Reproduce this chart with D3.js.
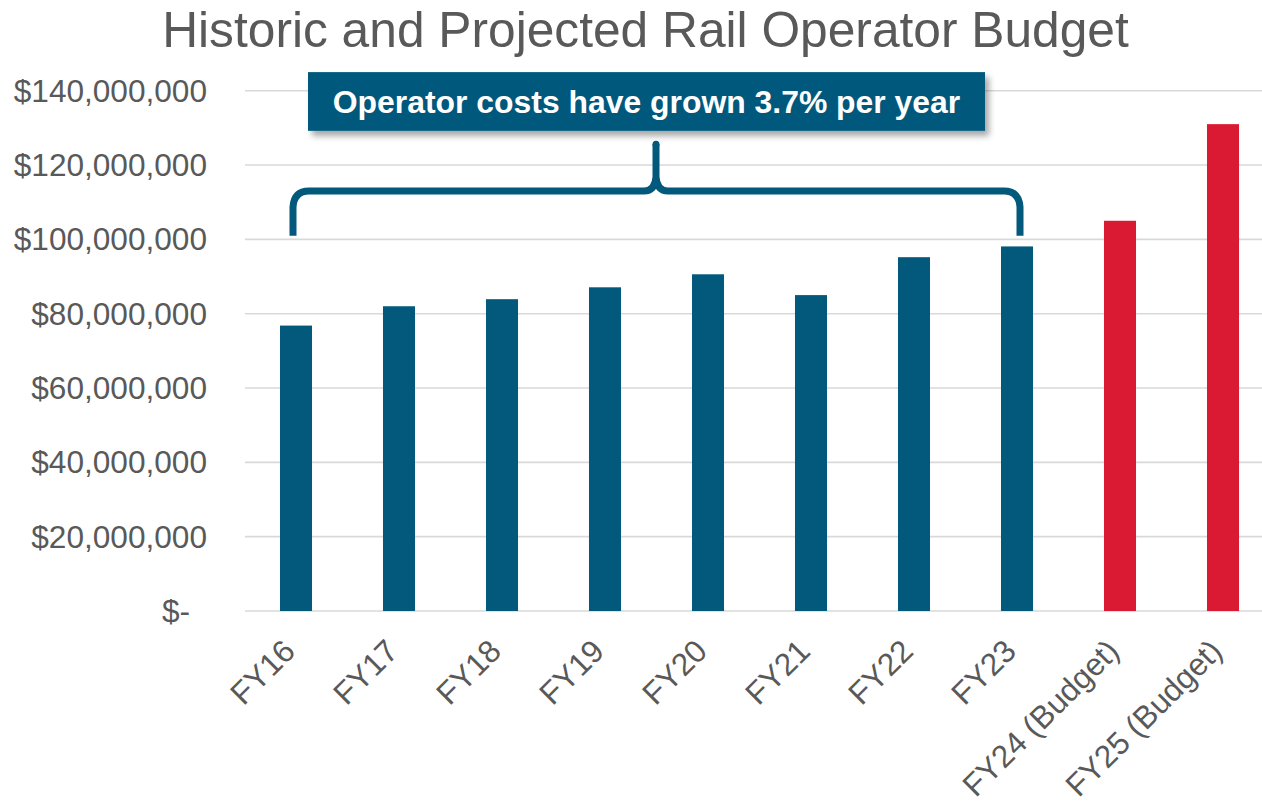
<!DOCTYPE html>
<html>
<head>
<meta charset="utf-8">
<script src="https://cdn.jsdelivr.net/npm/d3@7"></script>
<style>
html,body{margin:0;padding:0;background:#fff;}
svg{display:block;font-family:"Liberation Sans",Arial,sans-serif;}
</style>
</head>
<body>
<svg id="chart" width="1262" height="803"></svg>
<script>
const title = "Historic and Projected Rail Operator Budget";
const categories = ["FY16","FY17","FY18","FY19","FY20","FY21","FY22","FY23","FY24 (Budget)","FY25 (Budget)"];
const values = [76.8e6, 82.0e6, 83.9e6, 87.1e6, 90.6e6, 85.0e6, 95.2e6, 98.1e6, 105.0e6, 131.0e6];
const kinds = ["Actual","Actual","Actual","Actual","Actual","Actual","Actual","Actual","Budget","Budget"];
const yTicks = [0, 20e6, 40e6, 60e6, 80e6, 100e6, 120e6, 140e6];
const yTickLabels = ["$-","$20,000,000","$40,000,000","$60,000,000","$80,000,000","$100,000,000","$120,000,000","$140,000,000"];
const annotationText = "Operator costs have grown 3.7% per year";
const braceFrom = "FY16", braceTo = "FY23";

const colors = {Actual: "#02597C", Budget: "#DA1A32"};
const textColor = "#595959";
const W = 1262, H = 803;
const svg = d3.select("#chart");

const x = d3.scaleBand().domain(categories).range([244.5, 1274.5]).paddingInner(0.689).paddingOuter(0.3445);
const y = d3.scaleLinear().domain([0, 140e6]).range([611, 90.7]);

// defs: shadow
const defs = svg.append("defs");
const f = defs.append("filter").attr("id","shadow").attr("x","-10%").attr("y","-30%").attr("width","130%").attr("height","180%");
f.append("feDropShadow").attr("dx",4).attr("dy",5).attr("stdDeviation",3).attr("flood-color","#000").attr("flood-opacity",0.35);

// gridlines
svg.append("g").selectAll("line").data(yTicks).join("line")
  .attr("x1", 245).attr("x2", W)
  .attr("y1", d => y(d)).attr("y2", d => y(d))
  .attr("stroke", "#D9D9D9").attr("stroke-width", 1.6);

// y labels
svg.append("g").selectAll("text").data(yTicks).join("text")
  .attr("x", (d,i) => i === 0 ? 190 : 207)
  .attr("y", d => y(d)).attr("dy", "0.35em")
  .attr("text-anchor", "end").attr("fill", textColor).attr("font-size", 31.6)
  .text((d,i) => yTickLabels[i]);

// bars
svg.append("g").selectAll("rect").data(categories).join("rect")
  .attr("x", d => x(d)).attr("width", x.bandwidth())
  .attr("y", (d,i) => y(values[i])).attr("height", (d,i) => y(0) - y(values[i]))
  .attr("fill", (d,i) => colors[kinds[i]]);

// x labels
svg.append("g").selectAll("text").data(categories).join("text")
  .attr("transform", d => `translate(${x(d) + x.bandwidth()/2 + 1},653) rotate(-45)`)
  .attr("text-anchor", "end").attr("fill", textColor).attr("font-size", 31.6)
  .text(d => d);

// title
svg.append("text").attr("x", 645.5).attr("y", 47).attr("text-anchor","middle")
  .attr("fill", textColor).attr("font-size", 49.7).text(title);

// brace
const bx0 = x(braceFrom) + x.bandwidth()/2 - 3;
const bx1 = x(braceTo) + x.bandwidth()/2 + 3;
const bxm = 656;
const yb = y(101e6), yh = y(113e6), yp = y(125.6e6);
const r = 16;
const p = d3.path();
p.moveTo(bx0, yb);
p.lineTo(bx0, yh + r);
p.quadraticCurveTo(bx0 + 1, yh, bx0 + r, yh);
p.lineTo(bxm - 12, yh);
p.quadraticCurveTo(bxm - 1, yh, bxm, yh - 14);
p.lineTo(bxm, yp);
p.moveTo(bxm, yh - 14);
p.quadraticCurveTo(bxm + 1, yh, bxm + 12, yh);
p.lineTo(bx1 - r, yh);
p.quadraticCurveTo(bx1 - 1, yh, bx1, yh + r);
p.lineTo(bx1, yb);
svg.append("path").attr("d", p.toString()).attr("fill","none")
  .attr("stroke", colors.Actual).attr("stroke-width", 7).attr("stroke-linejoin","round");
svg.append("circle").attr("cx", bxm).attr("cy", yp).attr("r", 3.5).attr("fill", colors.Actual);

// annotation box
const boxX0 = 308, boxX1 = 985;
const boxY0 = y(145e6), boxY1 = y(129.2e6);
svg.append("rect").attr("x", boxX0).attr("y", boxY0).attr("width", boxX1 - boxX0).attr("height", boxY1 - boxY0)
  .attr("fill", colors.Actual).attr("filter", "url(#shadow)");
svg.append("text").attr("x", (boxX0 + boxX1)/2).attr("y", 113).attr("text-anchor","middle")
  .attr("fill","#fff").attr("font-weight","bold").attr("font-size", 31.9).text(annotationText);
</script>
</body>
</html>
